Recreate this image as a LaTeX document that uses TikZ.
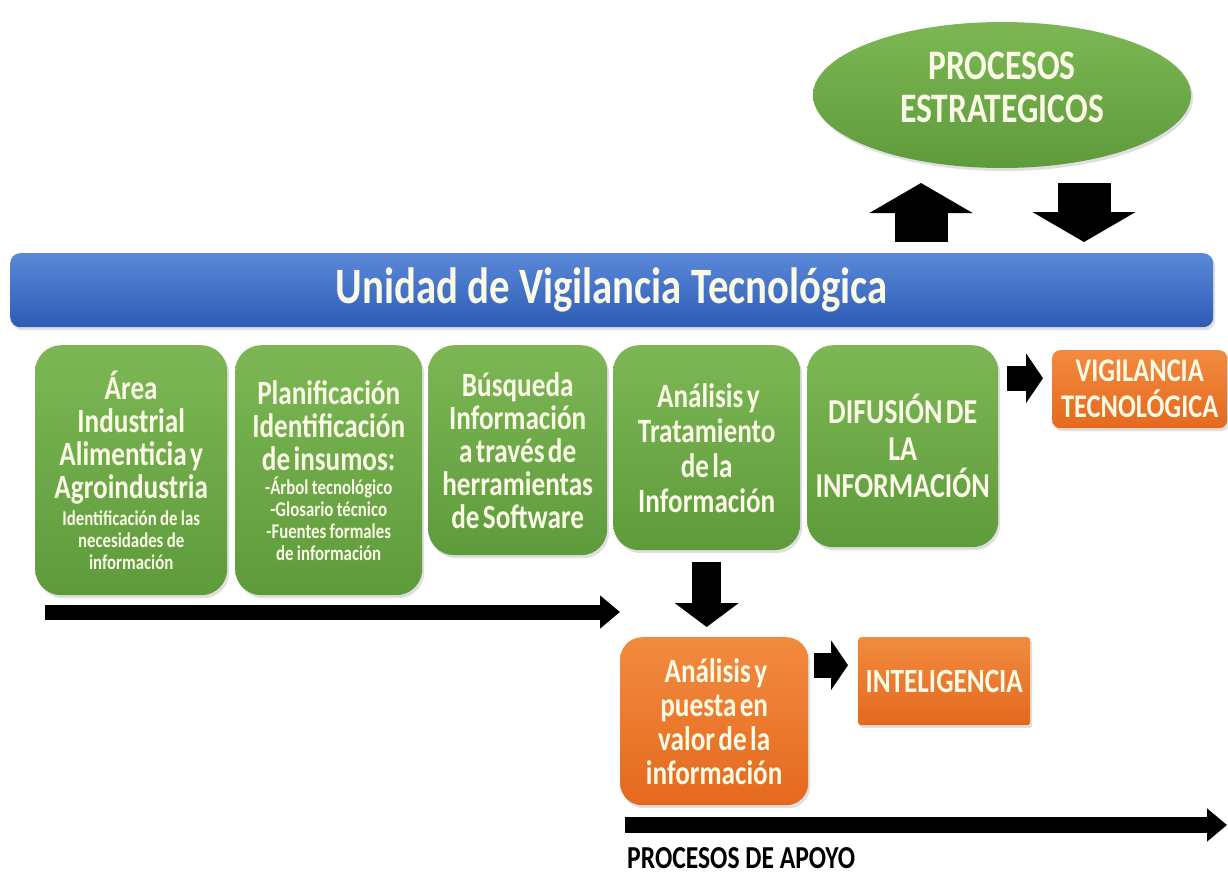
\documentclass[tikz,border=0pt]{standalone}
\usepackage{fontspec}
\setmainfont{Carlito}[FakeStretch=0.8]
\usetikzlibrary{arrows.meta,shapes.geometric,shadows}

\definecolor{greentop}{HTML}{7DB755}
\definecolor{greenbot}{HTML}{5E9B3B}
\definecolor{orangetop}{HTML}{F28B3F}
\definecolor{orangebot}{HTML}{E4691E}
\definecolor{bluetop}{HTML}{5A88D8}
\definecolor{bluebot}{HTML}{2E5CB5}
\definecolor{paletext}{HTML}{FAFAE6}

\tikzset{
  softshadow/.style={drop shadow={opacity=0.25, shadow xshift=2pt, shadow yshift=-3pt}},
  gbox/.style={rounded corners=26pt, top color=greentop, bottom color=greenbot,
    draw=none, text=paletext, font=\bfseries, align=center, anchor=north west,
    inner sep=0pt, softshadow},
  obox/.style={gbox, top color=orangetop, bottom color=orangebot},
  bigarrow/.style={line width=53pt, -{Triangle[width=102pt,length=30pt]}},
  midarrow/.style={line width=29pt, -{Triangle[width=63pt,length=24pt]}},
  smallarrow/.style={line width=25pt, -{Triangle[width=49pt,length=17pt]}},
  longarrow/.style={line width=15pt, -{Triangle[width=32pt,length=20pt]}}
}

\newcommand{\bigtxt}[1][33]{\fontsize{34}{#1}\selectfont}
\newcommand{\smalltxt}{\fontsize{21}{22}\selectfont}

\begin{document}
\begin{tikzpicture}[x=1pt,y=-1pt]
\useasboundingbox (0,0) rectangle (1228,875);

% top: strategic processes and the unit bar
\node[ellipse, top color=greentop, bottom color=greenbot, text=paletext,
  font=\bfseries\fontsize{42}{43}\selectfont, align=center, minimum width=378pt,
  minimum height=146pt, inner sep=0pt, text depth=16pt, softshadow] (estrategicos) at (1002,95)
  {PROCESOS\\ESTRATEGICOS};

\node[rounded corners=10pt, top color=bluetop, bottom color=bluebot, text=paletext,
  font=\bfseries\fontsize{51}{53}\selectfont, anchor=north west, minimum width=1203pt,
  minimum height=74pt, inner sep=0pt, softshadow] (unidad) at (10,253)
  {Unidad de Vigilancia Tecnológica};

\coordinate (uptip) at (921,183);
\coordinate (downtail) at (1084,183);
\draw[bigarrow, shorten <=11pt] (uptip |- unidad.north) -- (uptip);
\draw[bigarrow, shorten >=11pt] (downtail) -- (downtail |- unidad.north);

% the five steps
\node[gbox, minimum width=192pt, minimum height=250pt, text width=186pt] (area) at (35,345)
  {{\bigtxt Área\\Industrial\\Alimenticia y\\Agroindustria\par}\vspace{5pt}
   {\smalltxt Identificación de las\\necesidades de\\información\par}};
\node[gbox, minimum width=187pt, minimum height=250pt, text width=181pt] (planif) at (235,345)
  {{\bigtxt Planificación\\Identificación\\de insumos:\par}\vspace{2pt}
   {\smalltxt -Árbol tecnológico\\-Glosario técnico\\-Fuentes formales\\de información\par}};
\node[gbox, minimum width=179pt, minimum height=210pt, text width=173pt] (busqueda) at (428,345)
  {\bigtxt Búsqueda\\Información\\a través de\\herramientas\\de Software\par};
\node[gbox, minimum width=187pt, minimum height=205pt, text width=181pt] (analisis) at (613,345)
  {\bigtxt[35] Análisis y\\Tratamiento\\de la\\Información\par};
\node[gbox, minimum width=191pt, minimum height=202pt, text width=185pt] (difusion) at (807,345)
  {\fontsize{35}{37}\selectfont DIFUSIÓN DE\\LA\\INFORMACIÓN\par};

\node[obox, rounded corners=8pt, minimum width=175pt, minimum height=78pt, text width=170pt,
  font=\bfseries\fontsize{33}{36}\selectfont] (vigilancia) at (1052,350)
  {VIGILANCIA\\TECNOLÓGICA};
\coordinate (vigin) at ([yshift=11pt]vigilancia.west);
\draw[smallarrow, shorten <=9pt, shorten >=9pt] (difusion.east |- vigin) -- (vigin);

% intelligence part
\node[obox, rounded corners=22pt, minimum width=188pt, minimum height=168pt, text width=182pt] (valor) at (620,637)
  {\bigtxt[34] Análisis y\\puesta en\\valor de la\\información\par};
\node[obox, rounded corners=3pt, minimum width=172pt, minimum height=88pt,
  font=\bfseries\fontsize{34}{36}\selectfont] (inteligencia) at (858,637) {INTELIGENCIA};

\draw[midarrow, shorten <=12pt, shorten >=10pt] (analisis.south) -- (analisis.south |- valor.north);
\coordinate (intin) at ([yshift=16pt]inteligencia.west);
\draw[smallarrow, shorten <=6pt, shorten >=10pt] (valor.east |- intin) -- (intin);

% long arrows
\coordinate (flowa) at (45,612);
\coordinate (flowb) at (620,612);
\draw[longarrow] (flowa) -- (flowb);
\coordinate (apoyoa) at (625,825);
\coordinate (apoyob) at (1227,825);
\draw[longarrow, line width=16pt] (apoyoa) -- (apoyob);
\node[anchor=base west, inner sep=0pt, font=\bfseries\fontsize{32}{34}\selectfont] (apoyo) at (627,868)
  {PROCESOS DE APOYO};
\end{tikzpicture}
\end{document}
